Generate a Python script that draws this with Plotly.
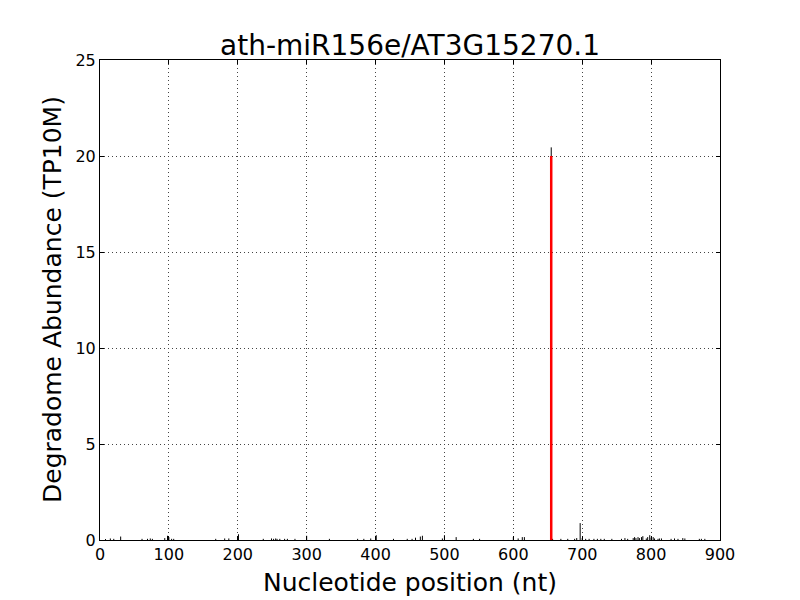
import plotly.graph_objects as go

title = "ath-miR156e/AT3G15270.1"
x_label = "Nucleotide position (nt)"
y_label = "Degradome Abundance (TP10M)"
positions = [8, 15, 20, 30, 61, 69, 73, 76, 94, 98, 100, 104, 107,
             168, 181, 187, 201, 237, 249, 252, 255, 257, 261, 268, 272, 283,
             300, 333, 374, 383, 393, 401, 426,
             446, 453, 458, 465, 468, 497, 500, 517, 542, 551,
             600, 607, 613, 616, 655, 657, 669, 679, 689, 692, 697, 700, 705, 710, 717, 722, 727, 732,
             743, 757, 762, 766, 774, 776, 778, 781, 783, 786, 788, 793, 795, 798, 800, 803, 805,
             810, 812, 815, 829, 834, 839, 846, 849, 870, 873, 878]
abundance = [0.05, 0.08, 0.06, 0.18, 0.06, 0.06, 0.08, 0.06, 0.1, 0.22, 0.15, 0.06, 0.06,
             0.06, 0.08, 0.08, 0.3, 0.06, 0.08, 0.06, 0.08, 0.06, 0.06, 0.06, 0.06, 0.06,
             0.22, 0.06, 0.06, 0.06, 0.08, 0.25, 0.06,
             0.06, 0.06, 0.12, 0.18, 0.22, 0.08, 0.25, 0.15, 0.06, 0.06,
             0.15, 0.08, 0.15, 0.15, 20.45, 0.06, 0.06, 0.06, 0.06, 0.1, 0.88, 0.1, 0.06, 0.06, 0.06, 0.06, 0.06, 0.06,
             0.06, 0.06, 0.1, 0.06, 0.1, 0.15, 0.1, 0.15, 0.1, 0.15, 0.2, 0.08, 0.15, 0.25, 0.12, 0.15, 0.08,
             0.06, 0.08, 0.08, 0.06, 0.08, 0.06, 0.1, 0.08, 0.06, 0.06, 0.06]
target_pos = [655]
target_val = [20.0]
x_ticks = list(range(0, 901, 100))
y_ticks = list(range(0, 26, 5))

def segs(xs, ys):
    X, Y = [], []
    for x, y in zip(xs, ys):
        X += [x, x, None]
        Y += [0, y, None]
    return X, Y

bx, by = segs(positions, abundance)
rx, ry = segs(target_pos, target_val)

fig = go.Figure()
fig.add_trace(go.Scatter(x=bx, y=by, mode="lines", line=dict(color="black", width=1),
                         showlegend=False, hoverinfo="skip"))
fig.add_trace(go.Scatter(x=rx, y=ry, mode="lines", line=dict(color="red", width=2.5),
                         showlegend=False, hoverinfo="skip"))

font = "DejaVu Sans"
axis_common = dict(showline=True, linecolor="black", linewidth=1, mirror="ticks",
                   ticks="inside", ticklen=4, tickcolor="black", tickwidth=1,
                   showgrid=True, gridcolor="#444444", griddash="1px,3px", gridwidth=1,
                   zeroline=False, automargin=False,
                   tickfont=dict(family=font, size=16, color="black"))

# page body has an 8px margin, so figure is 792x592 placed at (8,8)
fig.update_layout(
    width=792, height=592,
    paper_bgcolor="white", plot_bgcolor="white",
    margin=dict(l=92, r=80, t=52, b=60),
    xaxis=dict(range=[0, 900], tickvals=x_ticks, **axis_common),
    yaxis=dict(range=[0, 25], tickvals=y_ticks, **axis_common),
    annotations=[
        dict(text=title, xref="paper", yref="paper", x=0.5, y=(532 - 37) / 480,
             xanchor="center", yanchor="middle", showarrow=False,
             font=dict(family=font, size=28, color="black")),
        dict(text=x_label, xref="paper", yref="paper", x=0.5, y=(532 - 574) / 480,
             xanchor="center", yanchor="middle", showarrow=False,
             font=dict(family=font, size=25, color="black")),
        dict(text=y_label, xref="paper", yref="paper", x=(44 - 92) / 620, y=0.5,
             xanchor="center", yanchor="middle", showarrow=False, textangle=-90,
             font=dict(family=font, size=25, color="black")),
    ],
)
fig.write_html("out.html")
